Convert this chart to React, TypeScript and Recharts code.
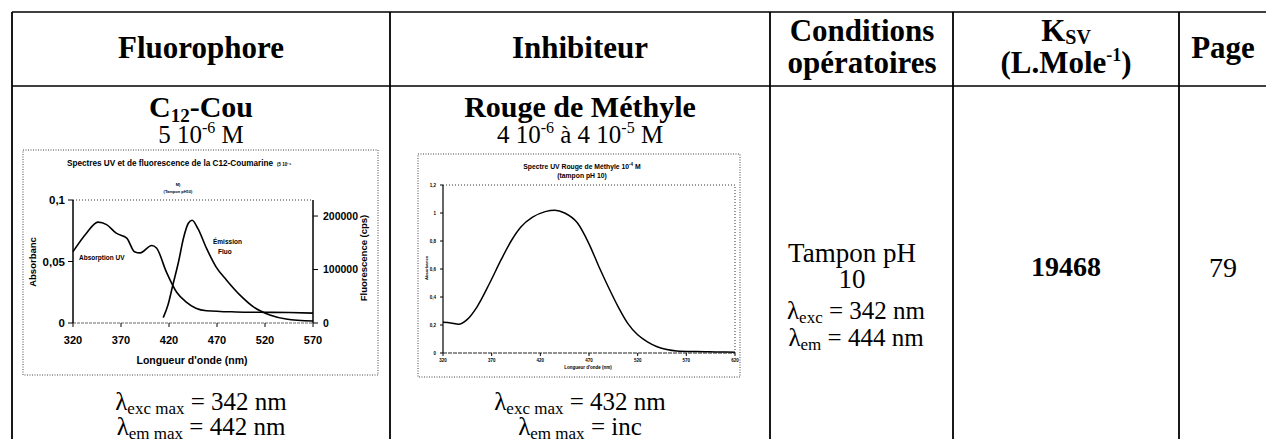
import React from "react";
import { LineChart, Line, XAxis, YAxis, ReferenceLine } from "recharts";

// ---- Chart 1 : C12-Coumarine (UV absorption + fluorescence emission)
const absWavelengths = [320, 334, 346, 355, 365, 376, 384, 390, 402, 407, 417, 428, 438, 448, 459, 490, 514, 545, 570];
const absValues = [0.058, 0.073, 0.082, 0.08, 0.073, 0.069, 0.058, 0.057, 0.063, 0.061, 0.042, 0.025, 0.017, 0.012, 0.01, 0.009, 0.0087, 0.0085, 0.008];
const emWavelengths = [414, 419, 424, 430, 435, 440, 444, 450, 459, 469, 480, 494, 508, 525, 542, 570];
const emValues = [10000, 34000, 71000, 115000, 158000, 186000, 192000, 177000, 140000, 105000, 80000, 52000, 30000, 15000, 7500, 3700];
const c1XTicks = [320, 370, 420, 470, 520, 570];
const c1LeftTicks = [0, 0.05, 0.1];
const c1RightTicks = [0, 100000, 200000];

// ---- Chart 2 : Rouge de Méthyle UV spectrum
const rmWavelengths = [320, 328, 336, 345, 355, 368, 380, 390, 400, 412, 425, 435, 445, 458, 470, 480, 490, 500, 510, 520, 530, 540, 550, 560, 580, 600, 620];
const rmValues = [0.22, 0.215, 0.205, 0.24, 0.33, 0.5, 0.67, 0.8, 0.9, 0.97, 1.01, 1.02, 1.0, 0.93, 0.78, 0.62, 0.47, 0.33, 0.21, 0.13, 0.08, 0.045, 0.025, 0.015, 0.01, 0.008, 0.006];
const c2XTicks = [320, 370, 420, 470, 520, 570, 620];
const c2YTicks = [0, 0.2, 0.4, 0.6, 0.8, 1, 1.2];

const absData = absWavelengths.map((x, i) => ({ x, y: absValues[i] }));
const emData = emWavelengths.map((x, i) => ({ x, y: emValues[i] }));
const rmData = rmWavelengths.map((x, i) => ({ x, y: rmValues[i] }));

const SERIF = "'Liberation Serif', 'Times New Roman', serif";
const SANS = "'Liberation Sans', Arial, sans-serif";
const comma = (v: number) => String(v).replace(".", ",");

const Chart1 = () => (
  <LineChart width={355} height={225} margin={{ top: 50, right: 0, bottom: 0, left: 0 }}>
    <XAxis
      dataKey="x"
      type="number"
      domain={[320, 570]}
      ticks={c1XTicks}
      interval={0}
      height={52}
      axisLine={{ stroke: "#666", strokeDasharray: "3 1" }}
      tickLine={{ stroke: "#000" }}
      tickSize={4}
      tickMargin={9}
      tick={{ fontSize: 11, fontWeight: 700, fill: "#000", fontFamily: SANS }}
    />
    <YAxis
      yAxisId="left"
      orientation="left"
      domain={[0, 0.1]}
      ticks={c1LeftTicks}
      interval={0}
      width={50}
      tickFormatter={comma}
      axisLine={{ stroke: "#000", strokeWidth: 1.5 }}
      tickLine={{ stroke: "#000" }}
      tickSize={5}
      tickMargin={3}
      tick={{ fontSize: 11.5, fontWeight: 700, fill: "#000", fontFamily: SANS }}
    />
    <YAxis
      yAxisId="right"
      orientation="right"
      domain={[0, 230000]}
      ticks={c1RightTicks}
      interval={0}
      width={65}
      axisLine={{ stroke: "#000", strokeWidth: 1.5 }}
      tickLine={{ stroke: "#000" }}
      tickSize={5}
      tickMargin={5}
      tick={{ fontSize: 10.5, fontWeight: 700, fill: "#000", fontFamily: SANS }}
    />
    <ReferenceLine yAxisId="left" y={0.1} stroke="#333" strokeDasharray="1 2" />
    <Line yAxisId="left" data={absData} dataKey="y" type="monotone" stroke="#000" strokeWidth={1.6} dot={false} isAnimationActive={false} />
    <Line yAxisId="right" data={emData} dataKey="y" type="monotone" stroke="#000" strokeWidth={1.6} dot={false} isAnimationActive={false} />
  </LineChart>
);

const Chart2 = () => (
  <LineChart width={322} height={223} margin={{ top: 31, right: 5, bottom: 0, left: 0 }}>
    <XAxis
      dataKey="x"
      type="number"
      domain={[320, 620]}
      ticks={c2XTicks}
      interval={0}
      height={24}
      axisLine={{ stroke: "#222", strokeDasharray: "4 1" }}
      tickLine={{ stroke: "#000" }}
      tickSize={3}
      tickMargin={3}
      tick={{ fontSize: 4.5, fontWeight: 700, fill: "#000", fontFamily: SANS }}
    />
    <YAxis
      dataKey="y"
      domain={[0, 1.2]}
      ticks={c2YTicks}
      interval={0}
      width={25}
      tickFormatter={comma}
      axisLine={{ stroke: "#000", strokeWidth: 1.2 }}
      tickLine={{ stroke: "#000" }}
      tickSize={3}
      tickMargin={4}
      tick={{ fontSize: 4.5, fontWeight: 700, fill: "#000", fontFamily: SANS }}
    />
    <ReferenceLine y={1.2} stroke="#333" strokeDasharray="1 2" />
    <ReferenceLine x={620} stroke="#333" strokeDasharray="1 2" />
    <Line data={rmData} dataKey="y" type="monotone" stroke="#000" strokeWidth={1.5} dot={false} isAnimationActive={false} />
  </LineChart>
);

const Lam = ({ sub, rest, x, y, size = 25, subSize = 17 }: any) => (
  <text x={x} y={y} fontSize={size} fontFamily={SERIF} textAnchor="middle">
    λ<tspan fontSize={subSize} dy={4}>{sub}</tspan>
    <tspan dy={-4}>{rest}</tspan>
  </text>
);

export default function App() {
  const vlines = [12, 390, 770, 953, 1179];
  return (
    <div style={{ position: "absolute", left: 0, top: 0, width: 1266, height: 439, background: "#fff", overflow: "hidden" }}>
      <div style={{ position: "absolute", left: 23, top: 150 }}>
        <Chart1 />
      </div>
      <div style={{ position: "absolute", left: 418, top: 154 }}>
        <Chart2 />
      </div>
      <svg width={1266} height={439} style={{ position: "absolute", left: 0, top: 0, pointerEvents: "none" }}>
        {/* table grid */}
        <line x1={12} y1={12} x2={1266} y2={12} stroke="#000" strokeWidth={1.5} />
        <line x1={12} y1={86} x2={1266} y2={86} stroke="#000" strokeWidth={1.5} />
        {vlines.map((x) => (
          <line key={x} x1={x} y1={12} x2={x} y2={439} stroke="#000" strokeWidth={1.8} />
        ))}

        {/* header */}
        <g fontFamily={SERIF} fontWeight={700} fontSize={31} textAnchor="middle" fill="#000">
          <text x={201} y={58}>Fluorophore</text>
          <text x={580} y={58}>Inhibiteur</text>
          <text x={862} y={41}>Conditions</text>
          <text x={862} y={73}>opératoires</text>
          <text x={1066} y={41}>
            K<tspan fontSize={20} dy={3}>SV</tspan>
          </text>
          <text x={1066} y={73}>
            (L.Mole<tspan fontSize={18} dy={-12}>-1</tspan>
            <tspan dy={12}>)</tspan>
          </text>
          <text x={1223} y={58}>Page</text>
        </g>

        {/* body texts */}
        <g fontFamily={SERIF} textAnchor="middle" fill="#000">
          <text x={201} y={117} fontSize={30} fontWeight={700}>
            C<tspan fontSize={19} dy={5}>12</tspan>
            <tspan dy={-5}>-Cou</tspan>
          </text>
          <text x={201} y={143} fontSize={25}>
            5 10<tspan fontSize={16} dy={-10}>-6</tspan>
            <tspan dy={10}> M</tspan>
          </text>
          <text x={580} y={117} fontSize={30} fontWeight={700}>Rouge de Méthyle</text>
          <text x={580} y={143} fontSize={25}>
            4 10<tspan fontSize={16} dy={-10}>-6</tspan>
            <tspan dy={10}> à 4 10</tspan>
            <tspan fontSize={16} dy={-10}>-5</tspan>
            <tspan dy={10}> M</tspan>
          </text>
          <text x={852} y={262} fontSize={27}>Tampon pH</text>
          <text x={852} y={288} fontSize={27}>10</text>
          <text x={1066} y={276} fontSize={28} fontWeight={700}>19468</text>
          <text x={1223} y={277} fontSize={28}>79</text>
        </g>
        <Lam x={856} y={319} size={25} subSize={17} sub="exc" rest=" = 342 nm" />
        <Lam x={856} y={346} size={25} subSize={17} sub="em" rest=" = 444 nm" />
        <Lam x={201} y={410} sub="exc max" rest=" = 342 nm" />
        <Lam x={201} y={435} sub="em max" rest=" = 442 nm" />
        <Lam x={580} y={410} sub="exc max" rest=" = 432 nm" />
        <Lam x={580} y={435} sub="em max" rest=" = inc" />

        {/* chart 1 frame and texts */}
        <rect x={23} y={150} width={355} height={225} fill="none" stroke="#444" strokeDasharray="1 1.5" />
        <g fontFamily={SANS} fontWeight={700} fill="#000">
          <text x={170} y={166} fontSize={8.2} textAnchor="middle">Spectres UV et de fluorescence de la C12-Coumarine</text>
          <text x={277} y={166} fontSize={4.5}>(5 10⁻⁶</text>
          <text x={178} y={186} fontSize={4} textAnchor="middle">M)</text>
          <text x={178} y={193} fontSize={4} textAnchor="middle">(Tampon pH10)</text>
          <text x={36} y={262} fontSize={9.5} textAnchor="middle" transform="rotate(-90 36 262)">Absorbanc</text>
          <text x={367} y={258} fontSize={9.5} textAnchor="middle" transform="rotate(-90 367 258)">Fluorescence (cps)</text>
          <text x={79} y={260} fontSize={6.5}>Absorption UV</text>
          <text x={213} y={244} fontSize={6.5}>Émission</text>
          <text x={218} y={254} fontSize={6.5}>Fluo</text>
          <text x={192} y={364} fontSize={10.5} textAnchor="middle">Longueur d'onde (nm)</text>
        </g>

        {/* chart 2 frame and texts */}
        <rect x={418} y={154} width={322} height={223} fill="none" stroke="#444" strokeDasharray="1 1.5" />
        <g fontFamily={SANS} fontWeight={700} fill="#000">
          <text x={582} y={169} fontSize={6.8} textAnchor="middle">
            Spectre UV Rouge de Méthyle 10<tspan fontSize={4.5} dy={-3}>-4</tspan>
            <tspan dy={3}> M</tspan>
          </text>
          <text x={582} y={178} fontSize={6.8} textAnchor="middle">(tampon pH 10)</text>
          <text x={428} y={268} fontSize={4.2} textAnchor="middle" transform="rotate(-90 428 268)">Absorbance</text>
          <text x={588} y={369} fontSize={4.5} textAnchor="middle">Longueur d'onde (nm)</text>
        </g>
      </svg>
    </div>
  );
}
